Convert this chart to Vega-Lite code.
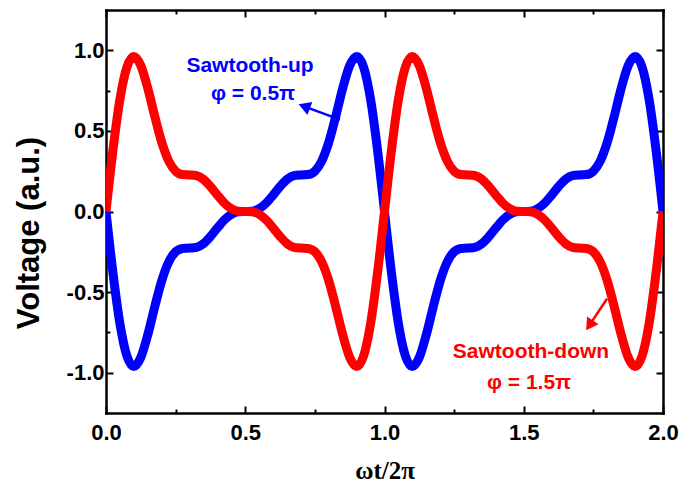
{
  "$schema": "https://vega.github.io/schema/vega-lite/v6.json",
  "width": 557,
  "height": 403,
  "autosize": "none",
  "padding": {"left": 106, "top": 10, "right": 17, "bottom": 72},
  "background": "white",
  "config": {
    "view": {"stroke": null},
    "axis": {
      "domainColor": "black",
      "domainWidth": 2.5,
      "domainCap": "square",
      "tickColor": "black",
      "tickWidth": 2,
      "grid": false,
      "labelFont": "Liberation Sans",
      "labelFontWeight": "bold",
      "labelFontSize": 22,
      "labelColor": "black"
    }
  },
  "datasets": {
    "curves": [
      {"t": 0, "down": 0, "up": 0},
      {"t": 0.025, "down": 0.381, "up": -0.381},
      {"t": 0.05, "down": 0.696, "up": -0.696},
      {"t": 0.075, "down": 0.896, "up": -0.896},
      {"t": 0.1, "down": 0.962, "up": -0.962},
      {"t": 0.125, "down": 0.905, "up": -0.905},
      {"t": 0.15, "down": 0.765, "up": -0.765},
      {"t": 0.175, "down": 0.591, "up": -0.591},
      {"t": 0.2, "down": 0.43, "up": -0.43},
      {"t": 0.225, "down": 0.314, "up": -0.314},
      {"t": 0.25, "down": 0.25, "up": -0.25},
      {"t": 0.275, "down": 0.229, "up": -0.229},
      {"t": 0.3, "down": 0.227, "up": -0.227},
      {"t": 0.325, "down": 0.222, "up": -0.222},
      {"t": 0.35, "down": 0.199, "up": -0.199},
      {"t": 0.375, "down": 0.155, "up": -0.155},
      {"t": 0.4, "down": 0.102, "up": -0.102},
      {"t": 0.425, "down": 0.052, "up": -0.052},
      {"t": 0.45, "down": 0.018, "up": -0.018},
      {"t": 0.475, "down": 0.002, "up": -0.002},
      {"t": 0.5, "down": 0, "up": 0},
      {"t": 0.525, "down": -0.002, "up": 0.002},
      {"t": 0.55, "down": -0.018, "up": 0.018},
      {"t": 0.575, "down": -0.052, "up": 0.052},
      {"t": 0.6, "down": -0.102, "up": 0.102},
      {"t": 0.625, "down": -0.155, "up": 0.155},
      {"t": 0.65, "down": -0.199, "up": 0.199},
      {"t": 0.675, "down": -0.222, "up": 0.222},
      {"t": 0.7, "down": -0.227, "up": 0.227},
      {"t": 0.725, "down": -0.229, "up": 0.229},
      {"t": 0.75, "down": -0.25, "up": 0.25},
      {"t": 0.775, "down": -0.314, "up": 0.314},
      {"t": 0.8, "down": -0.43, "up": 0.43},
      {"t": 0.825, "down": -0.591, "up": 0.591},
      {"t": 0.85, "down": -0.765, "up": 0.765},
      {"t": 0.875, "down": -0.905, "up": 0.905},
      {"t": 0.9, "down": -0.962, "up": 0.962},
      {"t": 0.925, "down": -0.896, "up": 0.896},
      {"t": 0.95, "down": -0.696, "up": 0.696},
      {"t": 0.975, "down": -0.381, "up": 0.381},
      {"t": 1.0, "down": 0, "up": 0},
      {"t": 1.025, "down": 0.381, "up": -0.381},
      {"t": 1.05, "down": 0.696, "up": -0.696},
      {"t": 1.075, "down": 0.896, "up": -0.896},
      {"t": 1.1, "down": 0.962, "up": -0.962},
      {"t": 1.125, "down": 0.905, "up": -0.905},
      {"t": 1.15, "down": 0.765, "up": -0.765},
      {"t": 1.175, "down": 0.591, "up": -0.591},
      {"t": 1.2, "down": 0.43, "up": -0.43},
      {"t": 1.225, "down": 0.314, "up": -0.314},
      {"t": 1.25, "down": 0.25, "up": -0.25},
      {"t": 1.275, "down": 0.229, "up": -0.229},
      {"t": 1.3, "down": 0.227, "up": -0.227},
      {"t": 1.325, "down": 0.222, "up": -0.222},
      {"t": 1.35, "down": 0.199, "up": -0.199},
      {"t": 1.375, "down": 0.155, "up": -0.155},
      {"t": 1.4, "down": 0.102, "up": -0.102},
      {"t": 1.425, "down": 0.052, "up": -0.052},
      {"t": 1.45, "down": 0.018, "up": -0.018},
      {"t": 1.475, "down": 0.002, "up": -0.002},
      {"t": 1.5, "down": 0, "up": 0},
      {"t": 1.525, "down": -0.002, "up": 0.002},
      {"t": 1.55, "down": -0.018, "up": 0.018},
      {"t": 1.575, "down": -0.052, "up": 0.052},
      {"t": 1.6, "down": -0.102, "up": 0.102},
      {"t": 1.625, "down": -0.155, "up": 0.155},
      {"t": 1.65, "down": -0.199, "up": 0.199},
      {"t": 1.675, "down": -0.222, "up": 0.222},
      {"t": 1.7, "down": -0.227, "up": 0.227},
      {"t": 1.725, "down": -0.229, "up": 0.229},
      {"t": 1.75, "down": -0.25, "up": 0.25},
      {"t": 1.775, "down": -0.314, "up": 0.314},
      {"t": 1.8, "down": -0.43, "up": 0.43},
      {"t": 1.825, "down": -0.591, "up": 0.591},
      {"t": 1.85, "down": -0.765, "up": 0.765},
      {"t": 1.875, "down": -0.905, "up": 0.905},
      {"t": 1.9, "down": -0.962, "up": 0.962},
      {"t": 1.925, "down": -0.896, "up": 0.896},
      {"t": 1.95, "down": -0.696, "up": 0.696},
      {"t": 1.975, "down": -0.381, "up": 0.381},
      {"t": 2.0, "down": 0, "up": 0}
    ],
    "labels": [
      {"x": 0.517, "y": 0.868, "text": "Sawtooth-up", "s": "up"},
      {"x": 0.528, "y": 0.693, "text": "φ = 0.5π", "s": "up"},
      {"x": 1.526, "y": -0.907, "text": "Sawtooth-down", "s": "down"},
      {"x": 1.519, "y": -1.101, "text": "φ = 1.5π", "s": "down"}
    ],
    "arrows": [
      {"x": 0.84, "y": 0.57, "x2": 0.716, "y2": 0.649, "s": "up"},
      {"x": 1.799, "y": -0.541, "x2": 1.739, "y2": -0.697, "s": "down"}
    ],
    "heads": [
      {"x": 0.712, "y": 0.652, "s": "up"},
      {"x": 1.736, "y": -0.706, "s": "down"}
    ]
  },
  "layer": [
    {
      "data": {"name": "curves"},
      "mark": {"type": "line", "color": "#0000ff", "strokeWidth": 9, "interpolate": "monotone", "clip": true, "strokeJoin": "round"},
      "encoding": {
        "x": {
          "field": "t", "type": "quantitative",
          "scale": {"domain": [0, 2], "nice": false, "zero": false},
          "axis": {
            "orient": "bottom",
            "values": [0, 0.25, 0.5, 0.75, 1, 1.25, 1.5, 1.75, 2],
            "labelExpr": "abs(datum.value*2-round(datum.value*2))<0.001 ? format(datum.value,'.1f') : ''",
            "tickSize": {"condition": {"test": "abs(datum.value*2-round(datum.value*2))<0.001", "value": -7}, "value": -4},
            "labelPadding": 16,
            "labelFlush": false,
            "labelOverlap": false,
            "title": "ωt/2π",
            "titleFont": "Liberation Serif",
            "titleFontSize": 25,
            "titleFontWeight": "bold",
            "titleColor": "black",
            "titleY": 65,
            "titleBaseline": "alphabetic"
          }
        },
        "y": {
          "field": "up", "type": "quantitative",
          "scale": {"domain": [-1.25, 1.25], "nice": false, "zero": false},
          "axis": {
            "orient": "left",
            "values": [-1, -0.75, -0.5, -0.25, 0, 0.25, 0.5, 0.75, 1],
            "labelExpr": "abs(datum.value*2-round(datum.value*2))<0.001 ? (datum.value<0 ? '-' + format(-datum.value,'.1f') : format(datum.value,'.1f')) : ''",
            "tickSize": {"condition": {"test": "abs(datum.value*2-round(datum.value*2))<0.001", "value": -7}, "value": -4},
            "labelPadding": 9,
            "labelOverlap": false,
            "title": "Voltage (a.u.)",
            "titleFont": "Liberation Sans",
            "titleFontSize": 31,
            "titleFontWeight": "bold",
            "titleColor": "black",
            "titleX": -68,
            "titleY": 222.5,
            "titleBaseline": "alphabetic"
          }
        }
      }
    },
    {
      "data": {"name": "curves"},
      "mark": {"type": "line", "color": "#ff0000", "strokeWidth": 9, "interpolate": "monotone", "clip": true, "strokeJoin": "round"},
      "encoding": {
        "x": {"field": "t", "type": "quantitative", "axis": null},
        "y": {"field": "down", "type": "quantitative", "axis": null}
      }
    },
    {
      "data": {"name": "arrows"},
      "mark": {"type": "rule", "strokeWidth": 2.5},
      "encoding": {
        "x": {"field": "x", "type": "quantitative", "axis": null},
        "y": {"field": "y", "type": "quantitative", "axis": null},
        "x2": {"field": "x2"},
        "y2": {"field": "y2"},
        "color": {"field": "s", "type": "nominal", "scale": {"domain": ["up", "down"], "range": ["#0000ff", "#ff0000"]}, "legend": null}
      }
    },
    {
      "data": {"name": "heads"},
      "transform": [{"filter": "datum.s === 'up'"}],
      "mark": {"type": "point", "shape": "triangle-up", "filled": true, "size": 190, "opacity": 1, "angle": 290.5, "strokeWidth": 0},
      "encoding": {
        "x": {"field": "x", "type": "quantitative", "axis": null},
        "y": {"field": "y", "type": "quantitative", "axis": null},
        "color": {"field": "s", "type": "nominal", "legend": null}
      }
    },
    {
      "data": {"name": "heads"},
      "transform": [{"filter": "datum.s === 'down'"}],
      "mark": {"type": "point", "shape": "triangle-up", "filled": true, "size": 190, "opacity": 1, "angle": 213.7, "strokeWidth": 0},
      "encoding": {
        "x": {"field": "x", "type": "quantitative", "axis": null},
        "y": {"field": "y", "type": "quantitative", "axis": null},
        "color": {"field": "s", "type": "nominal", "legend": null}
      }
    },
    {
      "data": {"name": "labels"},
      "mark": {"type": "text", "font": "Liberation Sans", "fontWeight": "bold", "fontSize": 21, "align": "center", "baseline": "alphabetic"},
      "encoding": {
        "x": {
          "field": "x", "type": "quantitative",
          "axis": {
            "orient": "top",
            "values": [0, 0.25, 0.5, 0.75, 1, 1.25, 1.5, 1.75, 2],
            "labels": false,
            "title": null,
            "tickSize": {"condition": {"test": "abs(datum.value*2-round(datum.value*2))<0.001", "value": -7}, "value": -4}
          }
        },
        "y": {
          "field": "y", "type": "quantitative",
          "axis": {
            "orient": "right",
            "values": [-1, -0.75, -0.5, -0.25, 0, 0.25, 0.5, 0.75, 1],
            "labels": false,
            "title": null,
            "tickSize": {"condition": {"test": "abs(datum.value*2-round(datum.value*2))<0.001", "value": -7}, "value": -4}
          }
        },
        "text": {"field": "text", "type": "nominal"},
        "color": {"field": "s", "type": "nominal", "legend": null}
      }
    }
  ],
  "resolve": {"axis": {"x": "independent", "y": "independent"}}
}
